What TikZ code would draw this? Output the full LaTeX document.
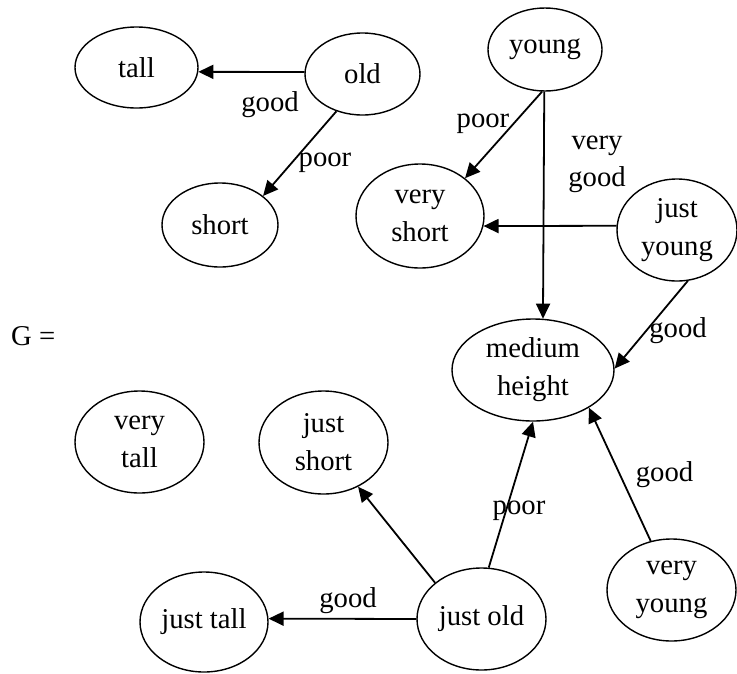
\documentclass[tikz,border=0pt]{standalone}
\usepackage{fontspec}
\setmainfont{Liberation Serif}
\usetikzlibrary{shapes.geometric,arrows.meta}
\tikzset{
  st/.style={draw, ellipse, inner sep=0pt, line width=1.4pt, align=center,
    font=\fontsize{28.7}{38}\selectfont},
  arr/.style={line width=1.8pt, -{Triangle[length=15pt,width=14pt]}},
  lbl/.style={anchor=base, inner sep=0pt, font=\fontsize{28.7}{38}\selectfont}
}
\begin{document}
\begin{tikzpicture}[x=1pt,y=-1pt]
\useasboundingbox (0,0) rectangle (737,673);
\node[st, minimum width=123pt, minimum height=81pt] (tall) at (136.5,67.5) {tall};
\node[st, minimum width=115pt, minimum height=82pt] (old) at (362.5,74) {old};
\node[st, minimum width=114pt, minimum height=83pt] (young) at (545,49.5) {young};
\node[st, minimum width=116pt, minimum height=84pt] (short) at (220,225) {short};
\node[st, minimum width=128pt, minimum height=104pt] (vshort) at (420,216) {very\\short};
\node[st, minimum width=120pt, minimum height=102pt] (jyoung) at (677,230) {just\\young};
\node[st, minimum width=162pt, minimum height=102pt] (medium) at (533,370) {medium\\height};
\node[st, minimum width=129pt, minimum height=102pt] (vtall) at (139.5,442) {very\\tall};
\node[st, minimum width=129pt, minimum height=103pt] (jshort) at (323.5,442.5) {just\\short};
\node[st, minimum width=128pt, minimum height=100pt] (jtall) at (204,622) {just tall};
\node[st, minimum width=129pt, minimum height=102pt] (jold) at (481.5,619) {just old};
\node[st, minimum width=129pt, minimum height=102pt] (vyoung) at (671.5,590) {very\\young};
\node[lbl, anchor=base west] (g) at (11,345) {G =};

\draw[arr] (old.178) -- (tall.-4);
\draw[arr] (old.235) -- (short.34);
\draw[arr] (young.266) -- (vshort.40);
\draw[arr] (young.269) -- (medium.79);
\draw[arr] (jyoung.176) -- (vshort.-9);
\draw[arr] (jyoung.282) -- (medium.1);
\draw[arr] (jold.82) -- (medium.270);
\draw[arr] (vyoung.113) -- (medium.-34);
\draw[arr] (jold.142) -- (jshort.-52);
\draw[arr] (jold.180) -- (jtall.3);

\node[lbl] (l1) at (270,111) {good};
\node[lbl] (l2) at (325,166) {poor};
\node[lbl] (l3) at (483,127) {poor};
\node[lbl] (l4) at (597,149) {very};
\node[lbl] (l5) at (597,186) {good};
\node[lbl] (l6) at (678,337) {good};
\node[lbl] (l7) at (519,514) {poor};
\node[lbl] (l8) at (664.5,481) {good};
\node[lbl] (l9) at (348,607) {good};
\end{tikzpicture}
\end{document}
